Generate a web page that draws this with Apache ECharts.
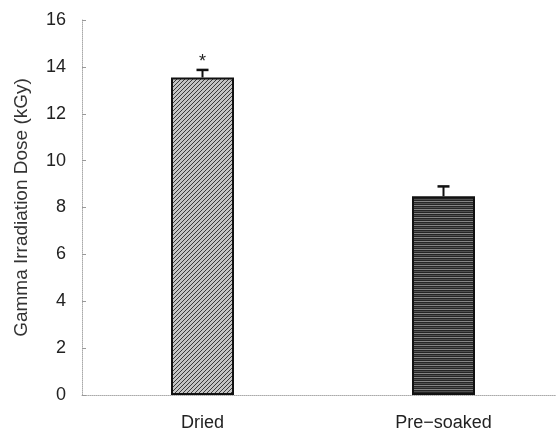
<!DOCTYPE html>
<html><head><meta charset="utf-8">
<script src="https://cdn.jsdelivr.net/npm/echarts@6/dist/echarts.min.js"></script>
<style>html,body{margin:0;padding:0;background:#fff}#c{width:556px;height:428px}</style>
</head><body><div id="c"></div>
<script>
var categories = ['Dried', 'Pre\u2212soaked'];
var values = [13.55, 8.48];
var errors = [0.32, 0.42];
var marks = ['*', ''];
var yTicks = [0, 2, 4, 6, 8, 10, 12, 14, 16];

function makeDiag() {
  var c = document.createElement('canvas'); c.width = 4; c.height = 4;
  var g = c.getContext('2d');
  g.fillStyle = '#c4c4c4'; g.fillRect(0, 0, 4, 4);
  g.fillStyle = '#3a3a3a';
  for (var i = 0; i < 4; i++) { g.fillRect(i, 3 - i, 1, 1); }
  return c;
}
function makeHoriz() {
  var c = document.createElement('canvas'); c.width = 8; c.height = 4;
  var g = c.getContext('2d');
  g.fillStyle = '#262626'; g.fillRect(0, 0, 8, 4);
  g.fillStyle = '#858585'; g.fillRect(0, 1, 8, 1);
  g.fillStyle = '#505050'; g.fillRect(0, 3, 8, 1);
  return c;
}
var fills = [
  { image: makeDiag(), repeat: 'repeat' },
  { image: makeHoriz(), repeat: 'repeat' }
];
var font = 'Liberation Sans, Arial, sans-serif';

var chart = echarts.init(document.getElementById('c'), null, { renderer: 'canvas' });
chart.setOption({
  backgroundColor: '#fff',
  animation: false,
  grid: { left: 82, width: 482, top: 20, bottom: 33, containLabel: false, outerBoundsMode: 'none' },
  xAxis: {
    type: 'category', data: categories,
    axisLine: { lineStyle: { color: '#aaa', type: 'dotted', width: 1 } },
    axisTick: { show: false },
    axisLabel: { color: '#222', fontSize: 18, fontFamily: font, margin: 19 }
  },
  yAxis: {
    type: 'value', min: yTicks[0], max: yTicks[yTicks.length - 1], interval: 2,
    name: 'Gamma Irradiation Dose (kGy)', nameLocation: 'middle', nameGap: 51, nameRotate: 90,
    nameTextStyle: { color: '#333', fontSize: 19, fontFamily: font },
    axisLine: { show: true, lineStyle: { color: '#aaa', type: 'dotted', width: 1 } },
    axisTick: { show: true, inside: true, length: 4, lineStyle: { color: '#999' } },
    splitLine: { show: false },
    axisLabel: { color: '#222', fontSize: 18, fontFamily: font, margin: 16 }
  },
  series: [
    {
      type: 'bar', barWidth: 63,
      data: values.map(function (v, i) {
        return { value: v, itemStyle: { color: fills[i], borderColor: '#111', borderWidth: 2 } };
      }),
      z: 2
    },
    {
      type: 'custom', z: 3,
      data: values.map(function (v, i) { return [i, v, errors[i]]; }),
      renderItem: function (params, api) {
        var i = api.value(0), v = api.value(1), e = api.value(2);
        var base = api.coord([i, v]);
        var top = api.coord([i, v + e]);
        var hw = 6;
        var children = [
          { type: 'line', shape: { x1: base[0], y1: base[1], x2: top[0], y2: top[1] }, style: { stroke: '#111', lineWidth: 2 } },
          { type: 'line', shape: { x1: top[0] - hw, y1: top[1], x2: top[0] + hw, y2: top[1] }, style: { stroke: '#111', lineWidth: 2.5 } }
        ];
        var m = marks[params.dataIndex];
        if (m) {
          children.push({ type: 'text', style: { text: m, x: top[0], y: top[1] + 1, align: 'center', verticalAlign: 'bottom', fill: '#222', font: '18px ' + font } });
        }
        return { type: 'group', children: children };
      }
    }
  ]
});
</script></body></html>
